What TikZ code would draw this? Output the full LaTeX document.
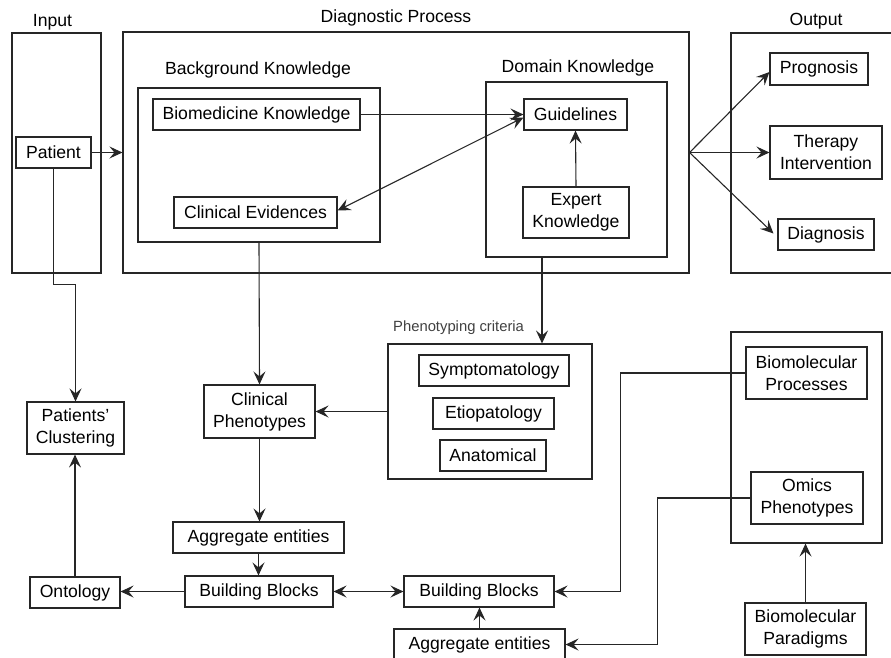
\documentclass[tikz,border=0pt]{standalone}
\usepackage{fontspec}
\setmainfont{Liberation Sans}
\usetikzlibrary{arrows.meta,calc}
\tikzset{
  tip/.tip={Stealth[length=13pt,width=12pt,inset=5pt]},
  box/.style={draw=black!85, line width=1.1pt, rectangle, inner sep=0pt, align=center,
    font=\fontsize{17.6}{22}\selectfont},
  frame/.style={draw=black!85, line width=1.1pt, rectangle, inner sep=0pt},
  lbl/.style={inner sep=0pt, font=\fontsize{17.6}{22}\selectfont},
  arr/.style={draw=black!85, line width=1.1pt, -tip},
  darr/.style={draw=black!85, line width=1.1pt, tip-tip}
}
\begin{document}
\begin{tikzpicture}[x=1pt,y=-1pt]
\useasboundingbox (0,0) rectangle (891,657);
\clip (0,0) rectangle (891,657);
% frames
\node[frame, minimum width=89pt, minimum height=240pt] (inputbox) at (56.5,153) {};
\node[frame, minimum width=566pt, minimum height=241pt] (diagbox) at (406,152.5) {};
\node[frame, minimum width=164pt, minimum height=240pt] (outbox) at (813,153) {};
\node[frame, minimum width=242pt, minimum height=154pt] (bgbox) at (259,165) {};
\node[frame, minimum width=181pt, minimum height=175pt] (domainbox) at (576.5,169.5) {};
\node[frame, minimum width=204pt, minimum height=135pt] (phenbox) at (490,411.5) {};
\node[frame, minimum width=151pt, minimum height=211pt] (biobox) at (806.5,437.5) {};
% labels
\node[lbl] (linput) at (52.5,22) {Input};
\node[lbl] (ldiag) at (396,18) {Diagnostic Process};
\node[lbl] (lbg) at (258,70) {Background Knowledge};
\node[lbl] (ldom) at (578,68) {Domain Knowledge};
\node[lbl] (lout) at (816,21) {Output};
\node[inner sep=0pt, anchor=west, text=black!75, font=\fontsize{14.8}{17}\selectfont] (lphen) at (393,328) {Phenotyping criteria};
% boxes
\node[box, minimum width=207pt, minimum height=31pt] (biomed) at (256.5,114.5) {Biomedicine Knowledge};
\node[box, minimum width=163pt, minimum height=31pt] (clinev) at (255.5,212.5) {Clinical Evidences};
\node[box, minimum width=75pt, minimum height=31pt] (patient) at (53.5,152.5) {Patient};
\node[box, minimum width=103pt, minimum height=31pt] (guide) at (575.5,114.5) {Guidelines};
\node[box, minimum width=106pt, minimum height=51pt] (expert) at (576,212.5) {Expert\\Knowledge};
\node[box, minimum width=98pt, minimum height=32pt] (prog) at (819,69) {Prognosis};
\node[box, minimum width=112pt, minimum height=53pt] (therapy) at (826,152.5) {Therapy\\Intervention};
\node[box, minimum width=96pt, minimum height=31pt] (diagn) at (826,234.5) {Diagnosis};
\node[box, minimum width=97pt, minimum height=52pt] (pclust) at (75.5,428) {Patients’\\Clustering};
\node[box, minimum width=111pt, minimum height=53pt] (clinph) at (259.5,411.5) {Clinical\\Phenotypes};
\node[box, minimum width=171pt, minimum height=31pt] (ae1) at (258.5,537.5) {Aggregate entities};
\node[box, minimum width=148pt, minimum height=31pt] (bb1) at (259,591.5) {Building Blocks};
\node[box, minimum width=90pt, minimum height=31pt] (onto) at (75,592.5) {Ontology};
\node[box, minimum width=150pt, minimum height=31pt] (sympt) at (494,370.5) {Symptomatology};
\node[box, minimum width=121pt, minimum height=31pt] (etio) at (493.5,413.5) {Etiopatology};
\node[box, minimum width=106pt, minimum height=31pt] (anat) at (493,455.5) {Anatomical};
\node[box, minimum width=121pt, minimum height=52pt] (bproc) at (806.5,373) {Biomolecular\\Processes};
\node[box, minimum width=112pt, minimum height=52pt] (omics) at (807,498) {Omics\\Phenotypes};
\node[box, minimum width=150pt, minimum height=31pt] (bb2) at (479,591.5) {Building Blocks};
\node[box, minimum width=171pt, minimum height=31pt] (ae2) at (479.5,644.5) {Aggregate entities};
\node[box, minimum width=121pt, minimum height=52pt] (bpar) at (805.5,629) {Biomolecular\\Paradigms};
% connectors
\draw[arr] (patient.east) -- (patient.east -| diagbox.west);
\draw[arr] (biomed.east) -- (guide.west);
\draw[darr] ([yshift=-3pt]guide.west) -- ([yshift=2pt]clinev.east);
\draw[arr] (expert.north) -- (guide.south);
\coordinate (fan) at (diagbox.east);
\draw[arr] (fan) -- ([yshift=-3pt]prog.west);
\draw[arr] (fan) -- (therapy.west);
\draw[arr] (fan) -- ([xshift=-4pt,yshift=1pt]diagn.west);
\draw[arr] (bgbox.south) -- (clinph.north);
\draw[arr] ([xshift=-34.5pt]domainbox.south) -- ([xshift=-34.5pt]domainbox.south |- phenbox.north);
\draw[arr] (phenbox.west) -- (phenbox.west -| clinph.east);
\draw[arr] (clinph.south) -- (clinph.south |- ae1.north);
\draw[arr] (ae1.south) -- (ae1.south |- bb1.north);
\draw[arr] (bb1.west) -- (bb1.west -| onto.east);
\draw[arr] (onto.north) -- (onto.north |- pclust.south);
\draw[arr] (patient.south) -- ([yshift=-116pt]patient.south) -| (pclust.north);
\draw[darr] (bb1.east) -- (bb2.west);
\draw[arr] (bproc.west) -- ++(-125,0) |- (bb2.east);
\draw[arr] (omics.west) -- ++(-93,0) |- (ae2.east);
\draw[arr] (ae2.north) -- (ae2.north |- bb2.south);
\draw[arr] (bpar.north) -- (bpar.north |- biobox.south);
\end{tikzpicture}
\end{document}
